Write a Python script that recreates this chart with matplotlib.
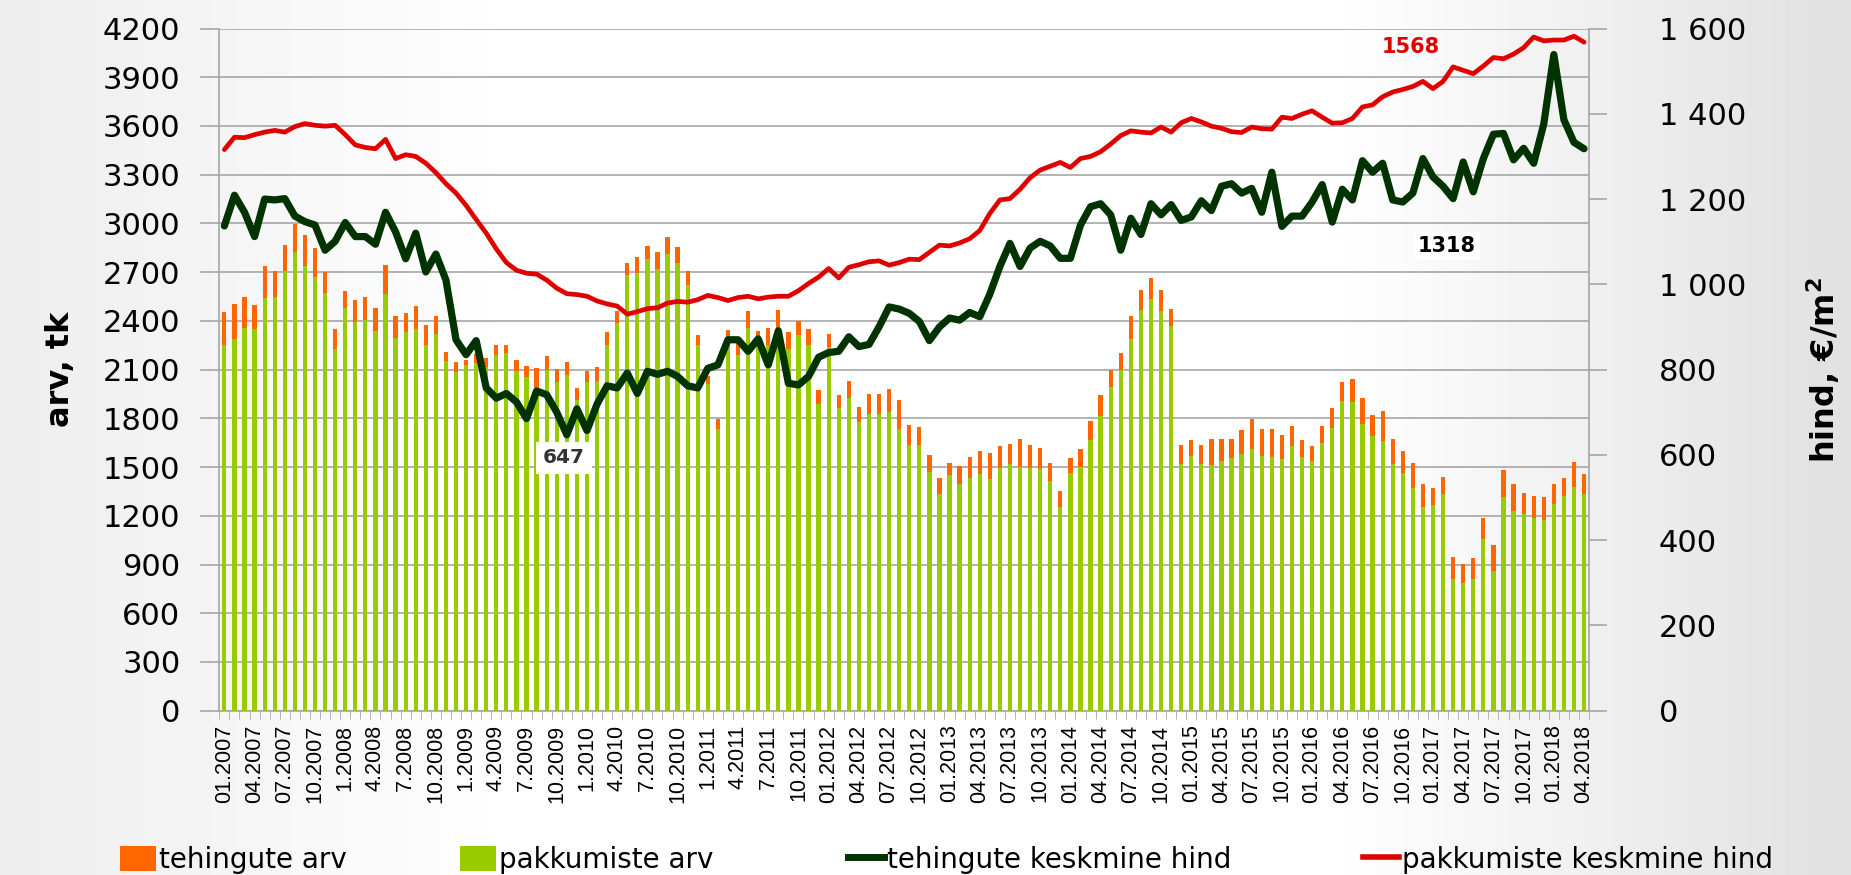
import matplotlib
matplotlib.use("Agg")
import matplotlib.pyplot as plt
import numpy as np
from matplotlib.patches import Patch
from matplotlib.lines import Line2D
from matplotlib.ticker import FuncFormatter, FixedLocator

# monthly data 01.2007 .. 04.2018 (136 months)
tehingute_arv = [
    2452, 2503, 2545, 2497, 2737, 2709, 2865, 2994, 2929, 2848, 2701, 2348,
    2585, 2526, 2545, 2480, 2743, 2429, 2446, 2494, 2376, 2429, 2206, 2144,
    2160, 2198, 2170, 2249, 2251, 2161, 2124, 2107, 2184, 2102, 2144, 1986,
    2090, 2113, 2333, 2463, 2757, 2791, 2862, 2825, 2915, 2853, 2706, 2316,
    2062, 1797, 2342, 2277, 2458, 2339, 2356, 2466, 2333, 2401, 2350, 1972,
    2319, 1944, 2031, 1867, 1952, 1952, 1980, 1915, 1760, 1746, 1576, 1435,
    1528, 1508, 1559, 1599, 1585, 1627, 1641, 1675, 1638, 1616, 1528, 1353,
    1557, 1613, 1783, 1944, 2099, 2203, 2432, 2588, 2661, 2588, 2472, 1633,
    1667, 1638, 1675, 1670, 1670, 1726, 1797, 1735, 1732, 1698, 1754, 1667,
    1627, 1754, 1862, 2023, 2042, 1927, 1822, 1847, 1670, 1599, 1525, 1393,
    1373, 1441, 946, 904, 941, 1187, 1017, 1483, 1393, 1342, 1322, 1314,
    1398, 1435, 1531, 1455,
]
pakkumiste_arv = [
    2249, 2288, 2359, 2350, 2542, 2548, 2706, 2822, 2737, 2670, 2571, 2226,
    2478, 2396, 2404, 2339, 2568, 2297, 2331, 2353, 2252, 2319, 2153, 2085,
    2130, 2141, 2113, 2189, 2203, 2090, 2057, 1994, 2096, 2023, 2068, 1915,
    2023, 2028, 2254, 2387, 2684, 2692, 2783, 2718, 2814, 2757, 2622, 2249,
    2014, 1737, 2297, 2192, 2359, 2254, 2249, 2345, 2226, 2311, 2249, 1887,
    2240, 1865, 1924, 1780, 1825, 1825, 1839, 1735, 1633, 1633, 1472, 1331,
    1449, 1393, 1435, 1458, 1429, 1492, 1520, 1500, 1492, 1489, 1412, 1254,
    1463, 1500, 1667, 1816, 1992, 2099, 2288, 2466, 2537, 2458, 2367, 1520,
    1568, 1520, 1511, 1540, 1557, 1582, 1613, 1568, 1562, 1548, 1627, 1562,
    1540, 1650, 1740, 1907, 1901, 1768, 1689, 1661, 1520, 1463, 1373, 1254,
    1266, 1331, 808, 785, 808, 1054, 862, 1316, 1232, 1209, 1189, 1175,
    1271, 1322, 1376, 1331,
]
tehingute_hind = [
    1137, 1209, 1169, 1112, 1200, 1198, 1201, 1160, 1147, 1139, 1080, 1101,
    1145, 1112, 1112, 1094, 1169, 1123, 1060, 1120, 1029, 1071, 1010, 870,
    835, 868, 757, 733, 744, 724, 685, 750, 741, 700, 647, 708,
    657, 719, 762, 757, 792, 744, 796, 789, 796, 784, 762, 757,
    803, 811, 870, 870, 843, 872, 811, 891, 768, 764, 784, 829,
    840, 843, 877, 854, 859, 900, 947, 942, 932, 913, 868, 900,
    921, 916, 934, 924, 977, 1042, 1096, 1042, 1085, 1101, 1090, 1061,
    1061, 1139, 1182, 1189, 1163, 1080, 1155, 1117, 1189, 1163, 1187, 1150,
    1158, 1196, 1173, 1230, 1236, 1214, 1225, 1169, 1263, 1136, 1160, 1160,
    1193, 1234, 1146, 1223, 1198, 1290, 1263, 1284, 1198, 1193, 1214, 1295,
    1252, 1230, 1201, 1287, 1217, 1295, 1352, 1354, 1292, 1319, 1284, 1376,
    1539, 1386, 1333, 1318,
]
pakkumiste_hind = [
    1316, 1345, 1344, 1351, 1357, 1361, 1357, 1370, 1377, 1373, 1371, 1373,
    1351, 1327, 1321, 1318, 1340, 1295, 1304, 1300, 1284, 1262, 1236, 1214,
    1185, 1152, 1120, 1083, 1051, 1033, 1026, 1024, 1010, 991, 978, 976,
    972, 961, 954, 949, 930, 936, 943, 945, 956, 960, 958, 964,
    974, 969, 962, 969, 972, 966, 970, 972, 972, 985, 1002, 1017,
    1037, 1015, 1040, 1046, 1053, 1055, 1045, 1051, 1059, 1058, 1075, 1092,
    1090, 1097, 1107, 1126, 1166, 1198, 1201, 1223, 1250, 1268, 1277, 1286,
    1274, 1295, 1300, 1311, 1329, 1349, 1360, 1357, 1355, 1369, 1357, 1379,
    1389, 1381, 1371, 1366, 1358, 1356, 1369, 1365, 1364, 1392, 1389, 1399,
    1407, 1392, 1378, 1379, 1389, 1416, 1421, 1440, 1451, 1457, 1464, 1476,
    1459, 1476, 1510, 1502, 1494, 1512, 1532, 1529, 1540, 1555, 1580, 1571,
    1573, 1573, 1582, 1568,
]

tick_labels = [
    "01.2007", "04.2007", "07.2007", "10.2007",
    "1.2008", "4.2008", "7.2008", "10.2008",
    "1.2009", "4.2009", "7.2009", "10.2009",
    "1.2010", "4.2010", "7.2010", "10.2010",
    "1.2011", "4.2011", "7.2011", "10.2011",
    "01.2012", "04.2012", "07.2012", "10.2012",
    "01.2013", "04.2013", "07.2013", "10.2013",
    "01.2014", "04.2014", "07.2014", "10.2014",
    "01.2015", "04.2015", "07.2015", "10.2015",
    "01.2016", "04.2016", "07.2016", "10.2016",
    "01.2017", "04.2017", "07.2017", "10.2017",
    "01.2018", "04.2018",
]

ORANGE = "#ff6600"
GREEN = "#99cc00"
DARK = "#003300"
RED = "#e00000"

fig = plt.figure(figsize=(18.51, 8.75), dpi=100)

# light slide background
bg = fig.add_axes([0, 0, 1, 1], zorder=-10)
grad = np.concatenate([np.linspace(0.93, 1.0, 40), np.ones(60), np.linspace(1.0, 0.88, 40)])
bg.imshow(np.tile(grad, (10, 1)), cmap="gray", vmin=0, vmax=1, aspect="auto", extent=[0, 1, 0, 1])
bg.axis("off")

ax = fig.add_axes([0.1185, 0.1878, 0.74, 0.7796])
ax.patch.set_alpha(0)
x = np.arange(len(tehingute_arv))

ax.bar(x, tehingute_arv, width=0.42, color=ORANGE, zorder=2)
ax.bar(x, pakkumiste_arv, width=0.42, color=GREEN, zorder=3)

ax.set_xlim(-0.5, len(x) - 0.5)
ax.set_ylim(0, 4200)
ax.set_yticks(np.arange(0, 4201, 300))
ax.grid(axis="y", color="#a6a6a6", lw=1.2, zorder=0)
ax.set_axisbelow(True)
ax.tick_params(axis="y", length=14, width=1.2, color="#a6a6a6", pad=14, labelsize=22)
ax.set_xticks(x[::3])
ax.set_xticklabels(tick_labels, rotation=90, fontsize=15.5, family="Liberation Sans")
ax.xaxis.set_minor_locator(FixedLocator(np.arange(-0.5, len(x), 1)))
ax.tick_params(axis="x", which="major", length=0, pad=10)
ax.tick_params(axis="x", which="minor", length=6, color="#a6a6a6")
for s in ["top", "right"]:
    ax.spines[s].set_visible(False)
for s in ["left", "bottom"]:
    ax.spines[s].set_color("#a6a6a6")
    ax.spines[s].set_linewidth(1.2)
ax.set_ylabel("arv, tk", fontweight="bold", fontsize=23)
ax.yaxis.set_label_coords(-0.105, 0.5)

ax2 = ax.twinx()
ax2.plot(x, tehingute_hind, color=DARK, lw=5.2, solid_joinstyle="round", solid_capstyle="round", zorder=4)
ax2.plot(x, pakkumiste_hind, color=RED, lw=3.4, solid_joinstyle="round", solid_capstyle="round", zorder=5)
ax2.set_ylim(0, 1600)
ax2.set_yticks(np.arange(0, 1601, 200))
ax2.yaxis.set_major_formatter(FuncFormatter(lambda v, p: f"{int(v):,}".replace(",", " ")))
ax2.tick_params(axis="y", length=13, width=1.2, color="#a6a6a6", pad=37, labelsize=22)
for s in ["top", "left", "bottom"]:
    ax2.spines[s].set_visible(False)
ax2.spines["right"].set_color("#a6a6a6")
ax2.spines["right"].set_linewidth(1.2)
ax2.set_ylabel("hind, €/m$^\\mathregular{2}$", fontweight="bold", fontsize=23)
ax2.yaxis.set_label_coords(1.157, 0.5)

# value labels
ax2.text(33.7, 593, "647", ha="center", va="center", fontsize=14.5, fontweight="bold", color="#333333",
         bbox=dict(facecolor="white", edgecolor="none", pad=5), zorder=6)
ax2.text(121.4, 1090, "1318", ha="center", va="center", fontsize=15, fontweight="bold", color="black",
         bbox=dict(facecolor="white", edgecolor="none", pad=3), zorder=6)
ax2.text(117.8, 1556, "1568", ha="center", va="center", fontsize=15, fontweight="bold", color=RED, zorder=6)

# legend, one entry per slot along the bottom
handles = [
    Patch(facecolor=ORANGE, edgecolor="none"),
    Patch(facecolor=GREEN, edgecolor="none"),
    Line2D([], [], color=DARK, lw=5),
    Line2D([], [], color=RED, lw=4),
]
labels = ["tehingute arv", "pakkumiste arv", "tehingute keskmine hind", "pakkumiste keskmine hind"]
slots = [0.0605, 0.2442, 0.4538, 0.732]
for h, lab, sx in zip(handles, labels, slots):
    fig.legend([h], [lab], loc="lower left", bbox_to_anchor=(sx, -0.008), frameon=False,
               prop={"size": 20}, handlelength=1.3, handleheight=1.0,
               handletextpad=0.1, borderpad=0.0, borderaxespad=0.3)

fig.savefig("out.png", dpi=100)
